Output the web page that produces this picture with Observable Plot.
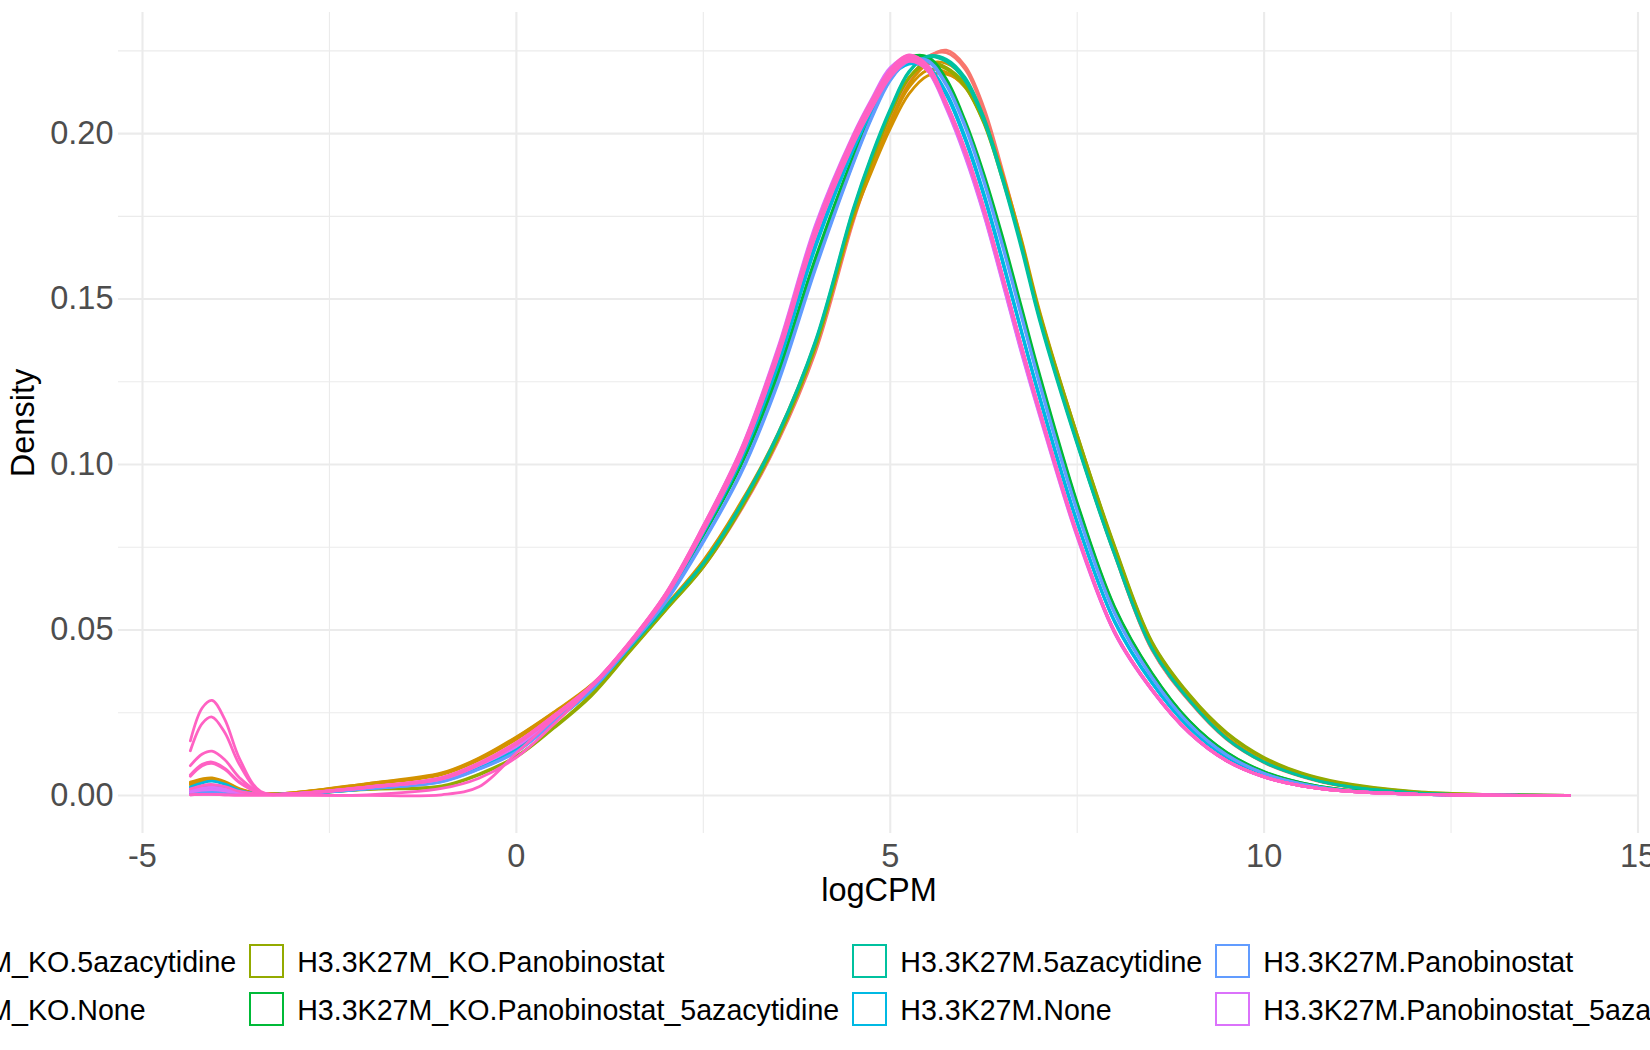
<!DOCTYPE html>
<html>
<head>
<meta charset="utf-8">
<script src="https://cdn.jsdelivr.net/npm/d3@7"></script>
<script src="https://cdn.jsdelivr.net/npm/@observablehq/plot@0.6"></script>
<style>
  html, body { margin: 0; padding: 0; background: #ffffff; }
  body { width: 1650px; height: 1050px; overflow: hidden; position: relative; font-family: "Liberation Sans", Arial, Helvetica, sans-serif; }
  #chart { position: absolute; left: 0; top: 0; }
  #legend { position: absolute; left: 0; top: 0; width: 1650px; height: 1050px; overflow: hidden; pointer-events: none; }
  .key { position: absolute; width: 35px; height: 34px; box-sizing: border-box; border: 2.6px solid; background: #fff; }
  .lab { position: absolute; font-size: 28.6px; line-height: 1; color: #000; white-space: nowrap; transform: translateY(-50%); }
</style>
</head>
<body>
<div id="chart"></div>
<div id="legend"></div>
<script>
// ---------------- data ----------------
const groups = [
  "H3.3K27M_KO.5azacytidine",
  "H3.3K27M_KO.None",
  "H3.3K27M_KO.Panobinostat",
  "H3.3K27M_KO.Panobinostat_5azacytidine",
  "H3.3K27M.5azacytidine",
  "H3.3K27M.None",
  "H3.3K27M.Panobinostat",
  "H3.3K27M.Panobinostat_5azacytidine",
  "(group 9)"
];
const groupColors = ["#F8766D", "#D39200", "#93AA00", "#00BA38", "#00C19F", "#00B9E3", "#619CFF", "#DB72FB", "#FF61C3"];

const xTicks = [-5, 0, 5, 10, 15];
const xMinor = [-2.5, 2.5, 7.5, 12.5];
const yTicks = [0, 0.05, 0.10, 0.15, 0.20];
const yMinor = [0.025, 0.075, 0.125, 0.175, 0.225];

// logCPM positions at which the density curves were read
const grid = [-4.36, -4.2, -4.07, -3.9, -3.7, -3.42, -3, -2, -1, -0.5, 0, 0.5, 1, 1.5, 2, 2.5, 3, 3.5, 4, 4.5, 4.75, 5, 5.25, 5.5, 5.75, 6, 6.25, 6.5, 6.75, 7, 7.5, 8, 8.5, 9, 9.5, 10, 10.5, 11, 12, 13, 14.08];

// density per sample
const koAza1 = [0.0020,0.0028,0.0030,0.0022,0.0010,0.0004,0.0006,0.0025,0.0050,0.0090,0.0145,0.0232,0.0325,0.0440,0.0565,0.0690,0.0860,0.1070,0.1340,0.1730,0.1895,0.2030,0.2150,0.2228,0.2252,0.2205,0.2080,0.1890,0.1680,0.1450,0.1070,0.0730,0.0440,0.0285,0.0170,0.0100,0.0058,0.0031,0.0008,0.0002,0.0000];
const koAza2 = [0.0015,0.0022,0.0024,0.0018,0.0008,0.0004,0.0006,0.0024,0.0048,0.0088,0.0142,0.0230,0.0323,0.0442,0.0568,0.0695,0.0866,0.1078,0.1352,0.1742,0.1905,0.2042,0.2160,0.2232,0.2245,0.2195,0.2068,0.1878,0.1668,0.1440,0.1065,0.0727,0.0440,0.0284,0.0169,0.0099,0.0057,0.0030,0.0008,0.0002,0.0000];
const koNone1 = [0.0040,0.0050,0.0053,0.0042,0.0020,0.0006,0.0008,0.0035,0.0066,0.0111,0.0175,0.0250,0.0332,0.0447,0.0572,0.0705,0.0880,0.1090,0.1365,0.1745,0.1895,0.2030,0.2140,0.2192,0.2185,0.2140,0.2035,0.1870,0.1675,0.1455,0.1085,0.0745,0.0452,0.0292,0.0175,0.0103,0.0060,0.0032,0.0008,0.0002,0.0000];
const koNone2 = [0.0032,0.0042,0.0045,0.0036,0.0017,0.0005,0.0008,0.0033,0.0063,0.0107,0.0170,0.0247,0.0330,0.0446,0.0572,0.0702,0.0876,0.1085,0.1358,0.1740,0.1895,0.2035,0.2150,0.2210,0.2212,0.2165,0.2050,0.1875,0.1675,0.1450,0.1078,0.0740,0.0450,0.0290,0.0173,0.0102,0.0059,0.0031,0.0008,0.0002,0.0000];
const koNone3 = [0.0036,0.0046,0.0049,0.0039,0.0018,0.0006,0.0008,0.0036,0.0068,0.0113,0.0177,0.0252,0.0334,0.0448,0.0575,0.0710,0.0885,0.1095,0.1370,0.1740,0.1885,0.2015,0.2120,0.2175,0.2180,0.2145,0.2045,0.1880,0.1685,0.1462,0.1090,0.0750,0.0455,0.0294,0.0176,0.0104,0.0060,0.0032,0.0008,0.0002,0.0000];
const koPano1 = [0.0012,0.0018,0.0020,0.0015,0.0007,0.0003,0.0004,0.0018,0.0027,0.0062,0.0116,0.0203,0.0300,0.0430,0.0560,0.0690,0.0865,0.1080,0.1360,0.1760,0.1920,0.2060,0.2170,0.2215,0.2200,0.2150,0.2040,0.1870,0.1675,0.1455,0.1090,0.0755,0.0465,0.0305,0.0190,0.0115,0.0068,0.0040,0.0012,0.0003,0.0000];
const koPano2 = [0.0008,0.0014,0.0016,0.0012,0.0006,0.0003,0.0004,0.0019,0.0029,0.0065,0.0119,0.0206,0.0305,0.0433,0.0562,0.0692,0.0866,0.1078,0.1355,0.1752,0.1915,0.2058,0.2168,0.2212,0.2195,0.2142,0.2032,0.1862,0.1668,0.1450,0.1085,0.0750,0.0462,0.0302,0.0187,0.0112,0.0066,0.0038,0.0011,0.0003,0.0000];
const koPanoAza1 = [0.0010,0.0016,0.0018,0.0014,0.0006,0.0003,0.0004,0.0022,0.0045,0.0085,0.0140,0.0228,0.0325,0.0450,0.0595,0.0785,0.0995,0.1270,0.1610,0.1920,0.2060,0.2175,0.2230,0.2232,0.2165,0.2040,0.1880,0.1690,0.1480,0.1270,0.0885,0.0570,0.0370,0.0225,0.0130,0.0072,0.0038,0.0019,0.0005,0.0001,0.0000];
const koPanoAza2 = [0.0008,0.0013,0.0015,0.0012,0.0005,0.0003,0.0004,0.0022,0.0046,0.0086,0.0141,0.0229,0.0326,0.0451,0.0598,0.0790,0.1002,0.1280,0.1625,0.1930,0.2065,0.2175,0.2226,0.2224,0.2158,0.2032,0.1870,0.1680,0.1470,0.1262,0.0880,0.0567,0.0368,0.0224,0.0129,0.0071,0.0038,0.0019,0.0005,0.0001,0.0000];
const mAza1 = [0.0010,0.0015,0.0017,0.0013,0.0006,0.0003,0.0004,0.0020,0.0044,0.0082,0.0135,0.0224,0.0318,0.0442,0.0570,0.0700,0.0875,0.1090,0.1370,0.1765,0.1930,0.2070,0.2185,0.2234,0.2225,0.2170,0.2050,0.1870,0.1665,0.1440,0.1065,0.0730,0.0445,0.0288,0.0172,0.0101,0.0058,0.0031,0.0008,0.0002,0.0000];
const mAza2 = [0.0006,0.0010,0.0012,0.0010,0.0005,0.0003,0.0004,0.0021,0.0045,0.0083,0.0137,0.0226,0.0320,0.0443,0.0571,0.0702,0.0878,0.1094,0.1375,0.1770,0.1935,0.2075,0.2188,0.2232,0.2218,0.2160,0.2040,0.1860,0.1655,0.1432,0.1060,0.0727,0.0443,0.0287,0.0171,0.0100,0.0058,0.0031,0.0008,0.0002,0.0000];
const mNone1 = [0.0025,0.0038,0.0043,0.0034,0.0015,0.0004,0.0005,0.0022,0.0044,0.0085,0.0136,0.0225,0.0320,0.0450,0.0600,0.0795,0.1015,0.1305,0.1660,0.1950,0.2070,0.2170,0.2213,0.2200,0.2120,0.1985,0.1815,0.1615,0.1405,0.1200,0.0825,0.0525,0.0340,0.0205,0.0115,0.0062,0.0032,0.0016,0.0004,0.0001,0.0000];
const mNone2 = [0.0018,0.0028,0.0032,0.0026,0.0012,0.0004,0.0005,0.0022,0.0045,0.0086,0.0138,0.0226,0.0318,0.0449,0.0598,0.0793,0.1012,0.1300,0.1655,0.1948,0.2068,0.2168,0.2210,0.2196,0.2116,0.1982,0.1812,0.1612,0.1402,0.1198,0.0823,0.0524,0.0339,0.0204,0.0115,0.0062,0.0032,0.0016,0.0004,0.0001,0.0000];
const mNone3 = [0.0012,0.0020,0.0023,0.0019,0.0009,0.0003,0.0005,0.0021,0.0043,0.0084,0.0134,0.0222,0.0316,0.0448,0.0602,0.0800,0.1022,0.1312,0.1668,0.1955,0.2075,0.2176,0.2218,0.2204,0.2125,0.1992,0.1822,0.1622,0.1410,0.1205,0.0828,0.0528,0.0342,0.0206,0.0116,0.0063,0.0033,0.0016,0.0004,0.0001,0.0000];
const mPano1 = [0.0008,0.0012,0.0014,0.0011,0.0005,0.0003,0.0004,0.0020,0.0042,0.0080,0.0132,0.0222,0.0318,0.0447,0.0585,0.0765,0.0970,0.1245,0.1590,0.1905,0.2045,0.2160,0.2220,0.2222,0.2150,0.2025,0.1860,0.1665,0.1455,0.1245,0.0862,0.0553,0.0358,0.0216,0.0123,0.0067,0.0035,0.0017,0.0004,0.0001,0.0000];
const mPano2 = [0.0005,0.0009,0.0011,0.0009,0.0004,0.0003,0.0004,0.0020,0.0041,0.0079,0.0131,0.0222,0.0319,0.0448,0.0588,0.0770,0.0976,0.1252,0.1598,0.1910,0.2050,0.2163,0.2220,0.2218,0.2145,0.2020,0.1855,0.1660,0.1450,0.1240,0.0858,0.0550,0.0356,0.0215,0.0122,0.0066,0.0035,0.0017,0.0004,0.0001,0.0000];
const mPanoAza1 = [0.0015,0.0022,0.0025,0.0020,0.0009,0.0003,0.0005,0.0024,0.0050,0.0092,0.0150,0.0235,0.0331,0.0458,0.0610,0.0815,0.1045,0.1355,0.1725,0.1995,0.2105,0.2200,0.2230,0.2190,0.2075,0.1930,0.1755,0.1550,0.1340,0.1145,0.0780,0.0490,0.0317,0.0188,0.0104,0.0055,0.0029,0.0015,0.0004,0.0001,0.0000];
const mPanoAza2 = [0.0010,0.0016,0.0018,0.0014,0.0007,0.0003,0.0005,0.0024,0.0049,0.0091,0.0148,0.0234,0.0330,0.0457,0.0608,0.0812,0.1040,0.1350,0.1718,0.1990,0.2100,0.2195,0.2228,0.2192,0.2080,0.1935,0.1760,0.1555,0.1345,0.1150,0.0783,0.0492,0.0318,0.0189,0.0104,0.0056,0.0029,0.0015,0.0004,0.0001,0.0000];
const g9a = [0.0020,0.0030,0.0033,0.0027,0.0012,0.0004,0.0005,0.0025,0.0052,0.0095,0.0157,0.0240,0.0330,0.0455,0.0605,0.0805,0.1030,0.1335,0.1700,0.1975,0.2085,0.2180,0.2228,0.2200,0.2090,0.1950,0.1775,0.1570,0.1360,0.1160,0.0790,0.0495,0.0320,0.0190,0.0105,0.0056,0.0029,0.0015,0.0004,0.0001,0.0000];
const g9b = [0.0165,0.0265,0.0287,0.0230,0.0110,0.0012,0.0005,0.0024,0.0050,0.0093,0.0155,0.0238,0.0327,0.0452,0.0600,0.0798,0.1022,0.1325,0.1690,0.1965,0.2075,0.2170,0.2218,0.2190,0.2082,0.1942,0.1768,0.1563,0.1354,0.1155,0.0786,0.0492,0.0318,0.0189,0.0104,0.0056,0.0029,0.0015,0.0004,0.0001,0.0000];
const g9c = [0.0135,0.0218,0.0237,0.0190,0.0092,0.0010,0.0005,0.0024,0.0051,0.0094,0.0156,0.0239,0.0328,0.0453,0.0602,0.0800,0.1025,0.1328,0.1694,0.1968,0.2078,0.2173,0.2222,0.2194,0.2085,0.1945,0.1770,0.1566,0.1356,0.1157,0.0788,0.0493,0.0319,0.0189,0.0104,0.0056,0.0029,0.0015,0.0004,0.0001,0.0000];
const g9d = [0.0090,0.0125,0.0134,0.0108,0.0053,0.0008,0.0005,0.0025,0.0052,0.0096,0.0158,0.0241,0.0330,0.0456,0.0606,0.0806,0.1032,0.1337,0.1702,0.1977,0.2088,0.2183,0.2230,0.2200,0.2088,0.1948,0.1772,0.1568,0.1358,0.1158,0.0789,0.0494,0.0320,0.0190,0.0105,0.0056,0.0029,0.0015,0.0004,0.0001,0.0000];
const g9e = [0.0062,0.0094,0.0101,0.0082,0.0040,0.0007,0.0005,0.0026,0.0054,0.0098,0.0160,0.0242,0.0332,0.0457,0.0607,0.0808,0.1034,0.1340,0.1705,0.1980,0.2090,0.2185,0.2232,0.2203,0.2092,0.1952,0.1776,0.1571,0.1361,0.1161,0.0791,0.0495,0.0320,0.0190,0.0105,0.0056,0.0029,0.0015,0.0004,0.0001,0.0000];
const g9f = [0.0058,0.0090,0.0097,0.0079,0.0038,0.0007,0.0005,0.0025,0.0053,0.0096,0.0158,0.0241,0.0331,0.0456,0.0606,0.0806,0.1031,0.1336,0.1700,0.1974,0.2084,0.2178,0.2225,0.2197,0.2088,0.1948,0.1773,0.1568,0.1358,0.1158,0.0789,0.0494,0.0320,0.0190,0.0105,0.0056,0.0029,0.0015,0.0004,0.0001,0.0000];
const g9g = [0.0002,0.0003,0.0003,0.0002,0.0001,0.0001,0.0001,0.0002,0.0021,0.0052,0.0115,0.0215,0.0328,0.0458,0.0610,0.0812,0.1040,0.1345,0.1712,0.1988,0.2098,0.2192,0.2236,0.2205,0.2092,0.1952,0.1776,0.1571,0.1361,0.1161,0.0791,0.0495,0.0320,0.0190,0.0105,0.0056,0.0029,0.0015,0.0004,0.0001,0.0000];
const g9h = [0.0002,0.0003,0.0003,0.0002,0.0001,0.0001,0.0001,0.0000,0.0002,0.0026,0.0128,0.0232,0.0330,0.0460,0.0612,0.0815,0.1043,0.1348,0.1715,0.1990,0.2100,0.2194,0.2238,0.2206,0.2093,0.1953,0.1777,0.1572,0.1362,0.1162,0.0792,0.0496,0.0321,0.0190,0.0105,0.0056,0.0029,0.0015,0.0004,0.0001,0.0000];

const samples = [
  [0, koAza1], [0, koAza2],
  [1, koNone1], [1, koNone2], [1, koNone3],
  [2, koPano1], [2, koPano2],
  [3, koPanoAza1], [3, koPanoAza2],
  [4, mAza1], [4, mAza2],
  [5, mNone1], [5, mNone2], [5, mNone3],
  [6, mPano1], [6, mPano2],
  [7, mPanoAza1], [7, mPanoAza2],
  [8, g9a], [8, g9b], [8, g9c], [8, g9d], [8, g9e], [8, g9f], [8, g9g], [8, g9h]
];

// ---------------- table for Plot ----------------
const rows = [];
samples.forEach(([g, vals], si) => {
  vals.forEach((v, i) => rows.push({sample: si, group: groups[g], logCPM: grid[i], density: v}));
});

const FONT = '"Liberation Sans", Arial, Helvetica, sans-serif';
const grey = "#EBEBEB";

const chart = Plot.plot({
  width: 1650,
  height: 910,
  marginLeft: 118,
  marginRight: 11,
  marginTop: 12,
  marginBottom: 77,
  x: {domain: [-5.321, 15.02]},
  y: {domain: [-0.0115, 0.2366]},
  color: {domain: groups, range: groupColors},
  style: {fontFamily: FONT, background: "#ffffff", overflow: "visible"},
  marks: [
    Plot.gridX(xMinor, {stroke: grey, strokeOpacity: 1, strokeWidth: 1.1}),
    Plot.gridY(yMinor, {stroke: grey, strokeOpacity: 1, strokeWidth: 1.1}),
    Plot.gridX(xTicks, {stroke: grey, strokeOpacity: 1, strokeWidth: 2.1}),
    Plot.gridY(yTicks, {stroke: grey, strokeOpacity: 1, strokeWidth: 2.1}),
    Plot.axisX(xTicks, {tickSize: 0, tickPadding: 10, fontSize: 32.5, fill: "#4D4D4D", tickFormat: d => String(d), label: null}),
    Plot.axisY(yTicks, {tickSize: 0, tickPadding: 5, fontSize: 32.5, fill: "#4D4D4D", tickFormat: d3.format(".2f"), label: null}),
    Plot.line(rows, {x: "logCPM", y: "density", z: "sample", stroke: "group", strokeWidth: 2.8, curve: "catmull-rom"}),
    Plot.text(["logCPM"], {frameAnchor: "bottom", textAnchor: "middle", lineAnchor: "middle", dy: 57, fontSize: 32.5, fill: "#000000"}),
    Plot.text(["Density"], {frameAnchor: "left", textAnchor: "middle", lineAnchor: "middle", dx: -95, rotate: -90, fontSize: 32.5, fill: "#000000"})
  ]
});
document.getElementById("chart").appendChild(chart);

// ---------------- legend (2 rows, filled column by column) ----------------
const legend = document.getElementById("legend");
const ctx = document.createElement("canvas").getContext("2d");
ctx.font = '28.6px ' + FONT;
const rowCenters = [961, 1009];
const keyW = 35, keyGap = 13, colGap = 13;
let colX = -171;
const nCols = Math.ceil(groups.length / 2);
for (let c = 0; c < nCols; c++) {
  let maxW = 0;
  for (let r = 0; r < 2; r++) {
    const gi = c * 2 + r;
    if (gi >= groups.length - 1) continue; // ninth entry lies outside the visible frame
    const name = groups[gi];
    maxW = Math.max(maxW, ctx.measureText(name).width);
    const key = document.createElement("div");
    key.className = "key";
    key.style.left = colX + "px";
    key.style.top = (rowCenters[r] - 17) + "px";
    key.style.borderColor = groupColors[gi];
    legend.appendChild(key);
    const lab = document.createElement("div");
    lab.className = "lab";
    lab.textContent = name;
    lab.style.left = (colX + keyW + keyGap) + "px";
    lab.style.top = (rowCenters[r] + 1) + "px";
    legend.appendChild(lab);
  }
  colX += keyW + keyGap + maxW + colGap;
}
</script>
</body>
</html>
